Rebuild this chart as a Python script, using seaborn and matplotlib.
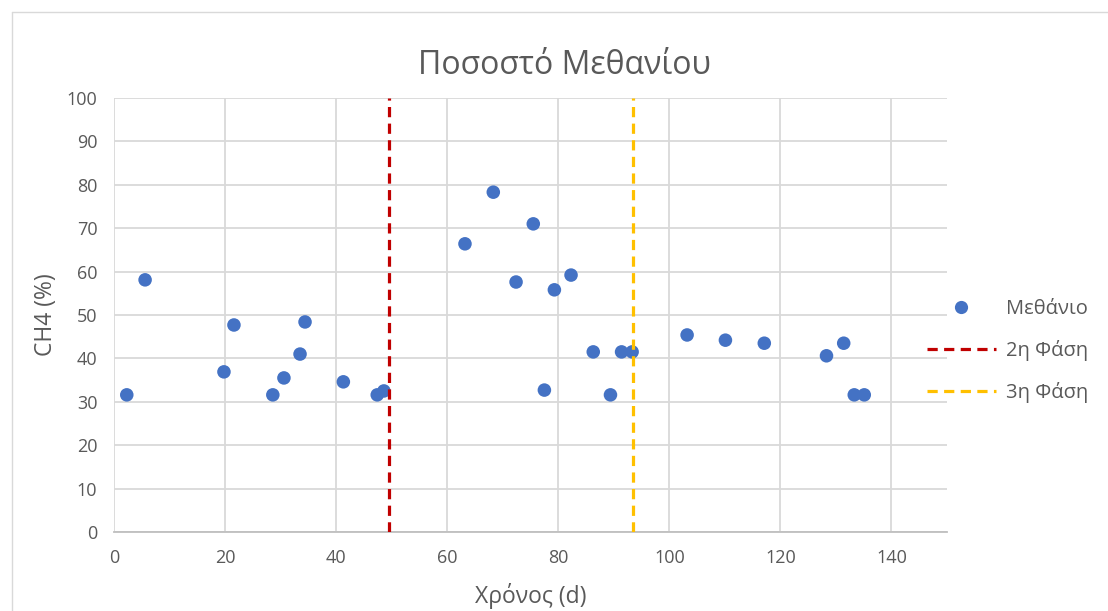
import matplotlib
matplotlib.use("Agg")
import matplotlib.pyplot as plt
from matplotlib.lines import Line2D
import seaborn as sns
import pandas as pd

days = [2.3, 5.6, 19.8, 21.6, 28.6, 30.6, 33.5, 34.4, 41.3, 47.4, 48.6,
        63.2, 68.3, 72.4, 75.5, 77.5, 79.3, 82.3, 86.3, 89.4, 91.4, 93.3,
        103.2, 110.1, 117.1, 128.3, 131.4, 133.3, 135.1]
ch4 = [31.6, 58.1, 36.9, 47.7, 31.6, 35.5, 41.0, 48.4, 34.6, 31.6, 32.5,
       66.4, 78.3, 57.6, 71.0, 32.7, 55.8, 59.2, 41.5, 31.6, 41.5, 41.5,
       45.4, 44.2, 43.5, 40.6, 43.5, 31.6, 31.6]
phase_x = [49.5, 93.5]
phase_labels = ["2η Φάση", "3η Φάση"]
phase_colors = ["#C00000", "#FFC000"]
series_label = "Μεθάνιο"
title = "Ποσοστό Μεθανίου"
xlabel = "Χρόνος (d)"
ylabel = "CH4 (%)"
xticks = [0, 20, 40, 60, 80, 100, 120, 140]
yticks = [0, 10, 20, 30, 40, 50, 60, 70, 80, 90, 100]

df = pd.DataFrame({"x": days, "y": ch4})

sns.set_theme(style="white")
plt.rcParams["font.family"] = ["Open Sans", "DejaVu Sans"]
txt = "#595959"

fig = plt.figure(figsize=(11.08, 6.11), dpi=100)
ax = fig.add_axes([114/1108, 1 - 532/611, (947-114)/1108, (532-98)/611])

ax.set_axisbelow(True)
ax.grid(True, color="#d9d9d9", linewidth=1.3)
sns.scatterplot(data=df, x="x", y="y", ax=ax, color="#4472C4", s=95,
                edgecolor="none", zorder=3, label=series_label, legend=False)
for xv, lab, col in zip(phase_x, phase_labels, phase_colors):
    ax.axvline(xv, color=col, linewidth=2.3, linestyle=(0, (3.2, 2.0)), zorder=4)

ax.set_xlim(0, 150)
ax.set_ylim(0, 100)
ax.set_xticks(xticks)
ax.set_yticks(yticks)
ax.tick_params(axis="both", length=0, labelsize=13, labelcolor=txt, pad=12)
for s in ["top", "right"]:
    ax.spines[s].set_visible(False)
ax.spines["left"].set_visible(False)
ax.spines["bottom"].set_color("#bfbfbf")
ax.spines["bottom"].set_linewidth(1.3)

ax.set_title(title, fontsize=23, color=txt, pad=17, x=(565-114)/833)
ax.set_xlabel(xlabel, fontsize=16.5, color=txt, labelpad=12)
ax.set_ylabel(ylabel, fontsize=16.5, color=txt, labelpad=6)

handles = [Line2D([], [], marker="o", linestyle="none", color="#4472C4",
                  markersize=9.5, markeredgewidth=0)]
for col in phase_colors:
    handles.append(Line2D([], [], color=col, linewidth=2.3, linestyle=(0, (3.2, 2.0))))
leg = fig.legend(handles, [series_label] + phase_labels, loc="center left",
                 bbox_to_anchor=(909/1108, 1 - 351/611), frameon=False,
                 fontsize=14.5, labelspacing=1.05, handlelength=3.4,
                 handletextpad=0.5, labelcolor=txt)

# chart border
fig.add_artist(Line2D([12/1108, 12/1108], [0, 1 - 12/611], transform=fig.transFigure,
                      color="#d9d9d9", linewidth=1))
fig.add_artist(Line2D([12/1108, 1], [1 - 12/611, 1 - 12/611], transform=fig.transFigure,
                      color="#d9d9d9", linewidth=1))

fig.savefig("out.png", dpi=100)
